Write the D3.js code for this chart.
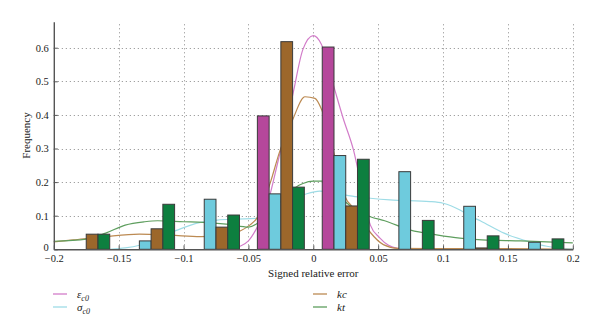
<!DOCTYPE html>
<html>
<head>
<meta charset="utf-8">
<script src="https://cdn.jsdelivr.net/npm/d3@7"></script>
<style>
  html, body { margin: 0; padding: 0; background: #fff; }
  svg { display: block; font-family: "Liberation Serif", "DejaVu Serif", serif; }
</style>
</head>
<body>
<svg id="chart" width="600" height="332"></svg>
<script>
// ---- data ----
const binCenters = [-0.175, -0.125, -0.075, -0.025, 0.025, 0.075, 0.125, 0.175];
const seriesNames = ["epsC0", "sigmaC0", "kc", "kt"];
const epsC0 = [0, 0, 0, 0.397, 0.602, 0, 0, 0];
const sigmaC0 = [0, 0.025, 0.149, 0.165, 0.279, 0.231, 0.128, 0.021];
const kc = [0.045, 0.061, 0.066, 0.618, 0.129, 0, 0.004, 0];
const kt = [0.045, 0.134, 0.102, 0.185, 0.268, 0.086, 0.040, 0.031];

const epsC0Curve = [[-0.07,0],[-0.062,0.004],[-0.056,0.01],[-0.05,0.025],[-0.044,0.06],[-0.035,0.14],
  [-0.027,0.265],[-0.02,0.38],[-0.015,0.475],[-0.008,0.595],[0,0.636],[0.006,0.612],[0.0154,0.49],
  [0.023,0.39],[0.031,0.295],[0.038,0.17],[0.044,0.072],[0.051,0.035],[0.058,0.012],[0.065,0.003],[0.075,0]];
const sigmaC0Curve = [[-0.157,0],[-0.145,0.004],[-0.134,0.012],[-0.12,0.032],[-0.105,0.057],[-0.087,0.08],
  [-0.074,0.087],[-0.059,0.09],[-0.044,0.092],[-0.03,0.12],[-0.018,0.15],[-0.008,0.162],[0.005,0.173],
  [0.016,0.168],[0.03,0.158],[0.044,0.152],[0.059,0.147],[0.09,0.142],[0.1,0.137],[0.113,0.117],
  [0.121,0.099],[0.129,0.084],[0.147,0.048],[0.167,0.022],[0.18,0.009],[0.195,0.002],[0.2,0.001]];
const kcCurve = [[-0.2,0.022],[-0.185,0.028],[-0.16,0.038],[-0.134,0.045],[-0.11,0.042],[-0.087,0.038],
  [-0.07,0.04],[-0.056,0.055],[-0.049,0.072],[-0.044,0.09],[-0.033,0.2],[-0.026,0.29],[-0.016,0.385],
  [-0.0064,0.454],[0.0013,0.449],[0.0065,0.415],[0.015,0.3],[0.024,0.16],[0.033,0.115],[0.044,0.05],
  [0.054,0.014],[0.065,0.003],[0.1,0.002],[0.15,0.002],[0.2,0]];
const ktCurve = [[-0.2,0.024],[-0.175,0.03],[-0.16,0.048],[-0.145,0.072],[-0.13,0.082],[-0.12,0.085],
  [-0.1,0.082],[-0.085,0.08],[-0.065,0.074],[-0.05,0.066],[-0.04,0.085],[-0.03,0.12],[-0.02,0.165],
  [-0.008,0.196],[0,0.203],[0.007,0.203],[0.016,0.175],[0.026,0.137],[0.033,0.117],[0.044,0.097],
  [0.055,0.085],[0.075,0.057],[0.095,0.043],[0.113,0.033],[0.13,0.028],[0.16,0.025],[0.2,0.019]];

const xTicks = [-0.2, -0.15, -0.1, -0.05, 0, 0.05, 0.1, 0.15, 0.2];
const yTicks = [0, 0.1, 0.2, 0.3, 0.4, 0.5, 0.6];
const xLabel = "Signed relative error";
const yLabel = "Frequency";

// ---- styles ----
const barColors = { epsC0: "#B5479B", sigmaC0: "#6ECBDD", kc: "#9C672B", kt: "#0D7F3F" };
const lineColors = { epsC0: "#D27CC9", sigmaC0: "#9EDCE6", kc: "#BC8A52", kt: "#5E9E5E" };

const svg = d3.select("#chart");
const x = d3.scaleLinear().domain([-0.2, 0.2]).range([53.8, 572.8]);
const y = d3.scaleLinear().domain([0, 0.6774]).range([249.3, 21.7]);
const offset = d3.scaleBand().domain(seriesNames).range([-0.0181, 0.0181]);

// grid
const grid = svg.append("g").attr("stroke", "#8a8a8a").attr("stroke-width", 1)
  .attr("stroke-dasharray", "1,3");
grid.selectAll("line.vx").data(xTicks.filter(d => d > -0.2)).join("line")
  .attr("x1", d => Math.round(x(d)) + 0.5).attr("x2", d => Math.round(x(d)) + 0.5)
  .attr("y1", y(0)).attr("y2", y(0.6774));
grid.selectAll("line.hy").data(yTicks.filter(d => d > 0)).join("line")
  .attr("y1", d => Math.round(y(d)) + 0.5).attr("y2", d => Math.round(y(d)) + 0.5)
  .attr("x1", x(-0.2)).attr("x2", x(0.2));

// curves (behind bars)
const line = d3.line().x(d => x(d[0])).y(d => y(d[1])).curve(d3.curveMonotoneX);
const curves = { epsC0: epsC0Curve, sigmaC0: sigmaC0Curve, kc: kcCurve, kt: ktCurve };
svg.append("g").selectAll("path").data(seriesNames).join("path")
  .attr("d", s => line(curves[s]))
  .attr("fill", "none").attr("stroke", s => lineColors[s]).attr("stroke-width", 1.2);

// bars
const values = { epsC0, sigmaC0, kc, kt };
const barData = [];
seriesNames.forEach(s => binCenters.forEach((c, i) => {
  if (values[s][i] > 0) barData.push({ s, c, v: values[s][i] });
}));
svg.append("g").selectAll("rect").data(barData).join("rect")
  .attr("x", d => x(d.c + offset(d.s)))
  .attr("width", d => x(d.c + offset(d.s) + offset.bandwidth()) - x(d.c + offset(d.s)))
  .attr("y", d => y(d.v))
  .attr("height", d => y(0) - y(d.v))
  .attr("fill", d => barColors[d.s])
  .attr("stroke", "#3a3a3a").attr("stroke-width", 1);

// axes
const fmt = d3.format("~g");
const xAxis = d3.axisBottom(x).tickValues(xTicks).tickFormat(fmt)
  .tickSizeInner(-4).tickSizeOuter(0).tickPadding(5);
const yAxis = d3.axisLeft(y).tickValues(yTicks).tickFormat(fmt)
  .tickSizeInner(-4).tickSizeOuter(0).tickPadding(5);
const gx = svg.append("g").attr("transform", `translate(0,${y(0)})`).call(xAxis);
const gy = svg.append("g").attr("transform", `translate(${x(-0.2)},0)`).call(yAxis);
[gx, gy].forEach(g => {
  g.select(".domain").attr("stroke", "#555").attr("stroke-width", 1.4);
  g.selectAll(".tick line").attr("stroke", "#555");
  g.selectAll(".tick text").attr("fill", "#1a1a1a").style("font-size", "10.5px")
    .style("font-family", "'Liberation Serif', serif");
});
// keep the "0" label of the y axis clear of the "-0.2" label below it
gy.selectAll(".tick text").filter(d => d === 0).attr("dy", "0.1em");

svg.append("text").attr("x", x(0)).attr("y", 277).attr("text-anchor", "middle")
  .style("font-size", "11px").attr("fill", "#1a1a1a").text(xLabel);
svg.append("text").attr("transform", `translate(30,${(y(0) + y(0.6774)) / 2}) rotate(-90)`)
  .attr("text-anchor", "middle").style("font-size", "11px").attr("fill", "#1a1a1a").text(yLabel);

// legend
const legendItems = [
  { s: "epsC0", main: "ε", sub: "c0", lx: 53, ly: 294 },
  { s: "sigmaC0", main: "σ", sub: "c0", lx: 53, ly: 307 },
  { s: "kc", main: "kc", sub: "", lx: 313, ly: 294 },
  { s: "kt", main: "kt", sub: "", lx: 313, ly: 307 }
];
const lg = svg.append("g").selectAll("g").data(legendItems).join("g")
  .attr("transform", d => `translate(${d.lx},${d.ly})`);
lg.append("line").attr("x1", 0).attr("x2", 14).attr("y1", 0).attr("y2", 0)
  .attr("stroke", d => lineColors[d.s]).attr("stroke-width", 1.3);
const lt = lg.append("text").attr("x", 24).attr("y", 3.5)
  .style("font-size", "11px").style("font-style", "italic").attr("fill", "#1a1a1a");
lt.append("tspan").text(d => d.main);
lt.append("tspan").attr("dy", 3).style("font-size", "8px").text(d => d.sub);
</script>
</body>
</html>
